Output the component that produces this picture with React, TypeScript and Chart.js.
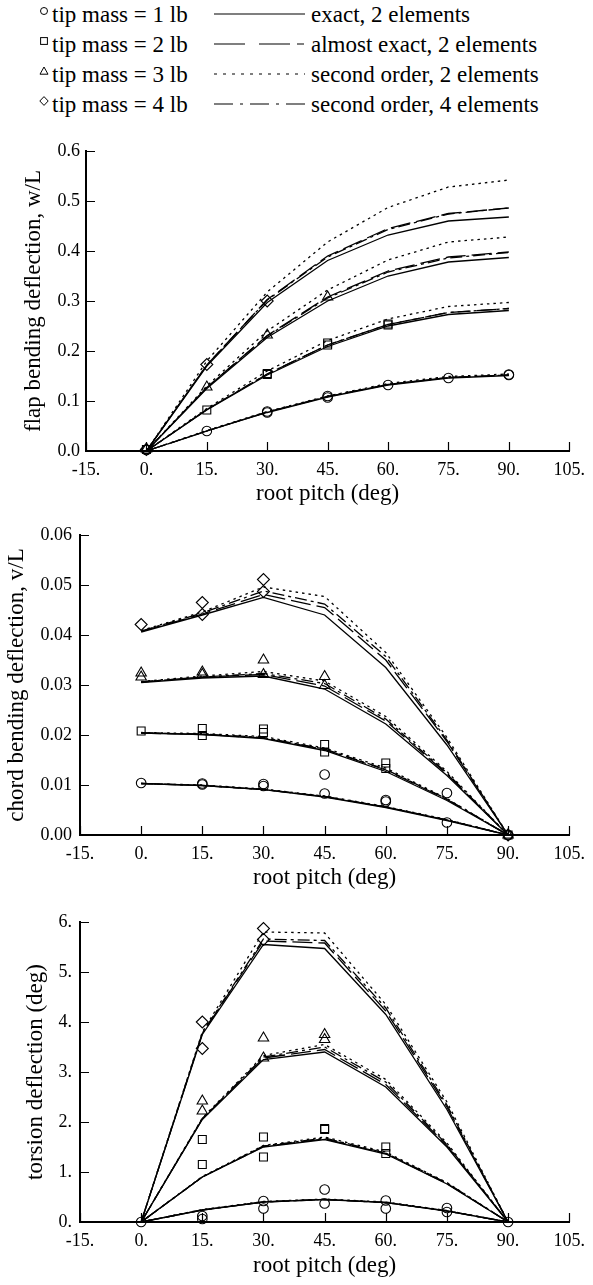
import React, { useEffect, useRef } from "react";
import { Chart, registerables } from "chart.js";

Chart.register(...registerables);

const FONT = '"Liberation Serif", "Tinos", "Times New Roman", serif';
Chart.defaults.font.family = FONT;

// ---------- shared ----------
const pitch = [0, 15, 30, 45, 60, 75, 90];
const xMin = -15;
const xMax = 105;
const xStep = 15;
const xTitle = "root pitch (deg)";

const legendMasses = ["tip mass = 1 lb", "tip mass = 2 lb", "tip mass = 3 lb", "tip mass = 4 lb"];
const legendMethods = [
  "exact, 2 elements",
  "almost exact, 2 elements",
  "second order, 2 elements",
  "second order, 4 elements",
];

// ---------- panel 1: flap bending ----------
const flapExact1 = [0, 0.04, 0.077, 0.108, 0.132, 0.146, 0.151];
const flapExact2 = [0, 0.082, 0.152, 0.209, 0.25, 0.273, 0.281];
const flapExact3 = [0, 0.125, 0.227, 0.3, 0.35, 0.378, 0.387];
const flapExact4 = [0, 0.17, 0.297, 0.381, 0.432, 0.46, 0.468];
const flapAlmost1 = [0, 0.04, 0.078, 0.109, 0.133, 0.147, 0.152];
const flapAlmost2 = [0, 0.083, 0.154, 0.212, 0.253, 0.277, 0.285];
const flapAlmost3 = [0, 0.127, 0.231, 0.308, 0.36, 0.388, 0.398];
const flapAlmost4 = [0, 0.172, 0.303, 0.39, 0.445, 0.475, 0.486];
const flapSecond1 = [0, 0.041, 0.079, 0.11, 0.135, 0.149, 0.154];
const flapSecond2 = [0, 0.085, 0.16, 0.221, 0.264, 0.289, 0.297];
const flapSecond3 = [0, 0.13, 0.24, 0.322, 0.382, 0.418, 0.428];
const flapSecond4 = [0, 0.18, 0.318, 0.418, 0.487, 0.528, 0.542];
const flapFour1 = [0, 0.04, 0.078, 0.109, 0.133, 0.147, 0.152];
const flapFour2 = [0, 0.083, 0.154, 0.212, 0.253, 0.277, 0.285];
const flapFour3 = [0, 0.127, 0.23, 0.306, 0.358, 0.386, 0.397];
const flapFour4 = [0, 0.172, 0.302, 0.388, 0.443, 0.474, 0.486];
const flapCircles = [[0, 0.002], [15, 0.04], [30, 0.077], [30, 0.079], [45, 0.107], [45, 0.11], [60, 0.132], [75, 0.146], [90, 0.152], [90, 0.153]];
const flapSquares = [[0, 0.003], [15, 0.082], [30, 0.153], [30, 0.155], [45, 0.212], [45, 0.216], [60, 0.252], [60, 0.254]];
const flapTriangles = [[0, 0.004], [15, 0.128], [30, 0.232], [45, 0.308]];
const flapDiamonds = [[0, 0.003], [15, 0.173], [30, 0.3]];

// ---------- panel 2: chord bending ----------
const chordExact1 = [0.0103, 0.0099, 0.0091, 0.0076, 0.0055, 0.0029, 0];
const chordExact2 = [0.0204, 0.0201, 0.0193, 0.0169, 0.0127, 0.0069, 0];
const chordExact3 = [0.0305, 0.0314, 0.0318, 0.0292, 0.0222, 0.0119, 0];
const chordExact4 = [0.0406, 0.044, 0.0475, 0.044, 0.0335, 0.018, 0];
const chordAlmost1 = [0.0103, 0.0099, 0.0091, 0.0077, 0.0056, 0.003, 0];
const chordAlmost2 = [0.0204, 0.0201, 0.0194, 0.0171, 0.013, 0.0071, 0];
const chordAlmost3 = [0.0306, 0.0316, 0.0321, 0.0298, 0.0228, 0.0122, 0];
const chordAlmost4 = [0.0407, 0.0442, 0.0481, 0.0455, 0.035, 0.0187, 0];
const chordSecond1 = [0.0103, 0.01, 0.0092, 0.0078, 0.0057, 0.0031, 0];
const chordSecond2 = [0.0205, 0.0203, 0.0197, 0.0174, 0.0134, 0.0073, 0];
const chordSecond3 = [0.0307, 0.0318, 0.0327, 0.0308, 0.0237, 0.0127, 0];
const chordSecond4 = [0.0409, 0.0446, 0.0496, 0.0477, 0.0365, 0.0195, 0];
const chordFour1 = [0.0103, 0.0099, 0.0091, 0.0077, 0.0056, 0.003, 0];
const chordFour2 = [0.0204, 0.0202, 0.0195, 0.0172, 0.0131, 0.0072, 0];
const chordFour3 = [0.0306, 0.0316, 0.0323, 0.0303, 0.0232, 0.0124, 0];
const chordFour4 = [0.0408, 0.0444, 0.0488, 0.0462, 0.0357, 0.019, 0];
const chordCircles = [[0, 0.0104], [15, 0.0101], [15, 0.0103], [30, 0.0102], [30, 0.0098], [45, 0.0121], [45, 0.0083], [60, 0.007], [60, 0.0067], [75, 0.0084], [75, 0.0025], [90, 0]];
const chordSquares = [[0, 0.0208], [15, 0.0213], [15, 0.0199], [30, 0.0212], [30, 0.0205], [45, 0.0181], [45, 0.0166], [60, 0.0144], [60, 0.0133], [90, 0]];
const chordTriangles = [[0, 0.0324], [0, 0.0316], [15, 0.0326], [15, 0.0321], [30, 0.035], [30, 0.0321], [45, 0.0317], [45, 0.0299], [90, 0]];
const chordDiamonds = [[0, 0.0421], [15, 0.0465], [15, 0.0441], [30, 0.0511], [30, 0.0487], [90, 0]];

// ---------- panel 3: torsion ----------
const torsExact1 = [0, 0.24, 0.4, 0.45, 0.39, 0.22, 0];
const torsExact2 = [0, 0.9, 1.5, 1.65, 1.36, 0.76, 0];
const torsExact3 = [0, 2.05, 3.25, 3.4, 2.7, 1.5, 0];
const torsExact4 = [0, 3.75, 5.55, 5.47, 4.15, 2.25, 0];
const torsAlmost1 = [0, 0.24, 0.4, 0.45, 0.39, 0.22, 0];
const torsAlmost2 = [0, 0.9, 1.51, 1.66, 1.37, 0.77, 0];
const torsAlmost3 = [0, 2.06, 3.28, 3.45, 2.75, 1.53, 0];
const torsAlmost4 = [0, 3.77, 5.62, 5.58, 4.22, 2.3, 0];
const torsSecond1 = [0, 0.25, 0.41, 0.46, 0.4, 0.23, 0];
const torsSecond2 = [0, 0.91, 1.53, 1.7, 1.4, 0.79, 0];
const torsSecond3 = [0, 2.08, 3.33, 3.55, 2.85, 1.58, 0];
const torsSecond4 = [0, 3.8, 5.8, 5.78, 4.35, 2.4, 0];
const torsFour1 = [0, 0.24, 0.4, 0.45, 0.39, 0.22, 0];
const torsFour2 = [0, 0.9, 1.52, 1.68, 1.38, 0.78, 0];
const torsFour3 = [0, 2.07, 3.3, 3.5, 2.8, 1.55, 0];
const torsFour4 = [0, 3.78, 5.66, 5.63, 4.28, 2.34, 0];
const torsCircles = [[0, 0], [15, 0.12], [15, 0.06], [30, 0.42], [30, 0.27], [45, 0.65], [45, 0.37], [60, 0.43], [60, 0.27], [75, 0.28], [75, 0.2], [90, 0]];
const torsSquares = [[15, 1.65], [15, 1.15], [30, 1.7], [30, 1.3], [45, 1.87], [45, 1.85], [60, 1.5], [60, 1.37]];
const torsTriangles = [[15, 2.42], [15, 2.22], [30, 3.68], [30, 3.28], [45, 3.75], [45, 3.65]];
const torsDiamonds = [[15, 4.0], [15, 3.47], [30, 5.87], [30, 5.65]];

// ---------- styles ----------
const DASH_EXACT: number[] = [];
const DASH_ALMOST = [20, 6];
const DASH_SECOND = [2.5, 4];
const DASH_FOUR = [12, 4, 3, 4];

function lineDs(ys: number[], dash: number[]) {
  return {
    type: "line",
    data: pitch.map((x, i) => ({ x, y: ys[i] })),
    borderColor: "#000",
    borderWidth: 1.3,
    borderDash: dash,
    pointRadius: 0,
    pointHoverRadius: 0,
    fill: false,
    tension: 0,
    clip: false,
  };
}

function markDs(pts: number[][], style: string, r: number) {
  return {
    type: "line",
    data: pts.map(([x, y]) => ({ x, y })),
    showLine: false,
    pointStyle: style,
    pointRadius: r,
    pointHoverRadius: r,
    borderColor: "#000",
    backgroundColor: "rgba(0,0,0,0)",
    pointBorderWidth: 1.1,
    borderWidth: 1.1,
    clip: false,
  };
}

function buildDatasets(
  exact: number[][],
  almost: number[][],
  second: number[][],
  four: number[][],
  circles: number[][],
  squares: number[][],
  triangles: number[][],
  diamonds: number[][]
) {
  const ds: any[] = [
    markDs(circles, "circle", 4.8),
    markDs(squares, "rect", 5.6),
    markDs(triangles, "triangle", 6),
    markDs(diamonds, "rectRot", 6),
  ];
  exact.forEach((s) => ds.push(lineDs(s, DASH_EXACT)));
  almost.forEach((s) => ds.push(lineDs(s, DASH_ALMOST)));
  four.forEach((s) => ds.push(lineDs(s, DASH_FOUR)));
  second.forEach((s) => ds.push(lineDs(s, DASH_SECOND)));
  return ds;
}

const inwardTicks = {
  id: "inwardTicks",
  afterDatasetsDraw(chart: any) {
    const { ctx, chartArea } = chart;
    const xs = chart.scales.x;
    const ys = chart.scales.y;
    ctx.save();
    ctx.strokeStyle = "#000";
    ctx.lineWidth = 1.2;
    ctx.setLineDash([]);
    ctx.beginPath();
    xs.ticks.forEach((t: any) => {
      const px = Math.round(xs.getPixelForValue(t.value)) + 0.5;
      ctx.moveTo(px, chartArea.bottom);
      ctx.lineTo(px, chartArea.bottom - 9);
    });
    ys.ticks.forEach((t: any) => {
      const py = Math.round(ys.getPixelForValue(t.value)) + 0.5;
      ctx.moveTo(chartArea.left, py);
      ctx.lineTo(chartArea.left + 9, py);
    });
    ctx.stroke();
    ctx.restore();
  },
};

type PanelCfg = {
  top: number;
  height: number;
  plotTop: number;
  plotLeft: number;
  plotRight: number;
  xAxisHeight: number;
  yMin: number;
  yMax: number;
  yStep: number;
  yFmt: (v: number) => string;
  yTitle: string;
  yTitlePad: number;
  yTickPad: number;
  datasets: any[];
};

const panels: PanelCfg[] = [
  {
    top: 125,
    height: 383,
    plotTop: 151,
    plotLeft: 86,
    plotRight: 576,
    xAxisHeight: 57,
    yMin: 0,
    yMax: 0.6,
    yStep: 0.1,
    yFmt: (v) => v.toFixed(1),
    yTitle: "flap bending deflection, w/L",
    yTitlePad: 20,
    yTickPad: 6,
    datasets: buildDatasets(
      [flapExact1, flapExact2, flapExact3, flapExact4],
      [flapAlmost1, flapAlmost2, flapAlmost3, flapAlmost4],
      [flapSecond1, flapSecond2, flapSecond3, flapSecond4],
      [flapFour1, flapFour2, flapFour3, flapFour4],
      flapCircles,
      flapSquares,
      flapTriangles,
      flapDiamonds
    ),
  },
  {
    top: 510,
    height: 382,
    plotTop: 535,
    plotLeft: 80,
    plotRight: 571,
    xAxisHeight: 57,
    yMin: 0,
    yMax: 0.06,
    yStep: 0.01,
    yFmt: (v) => v.toFixed(2),
    yTitle: "chord bending deflection, v/L",
    yTitlePad: 3,
    yTickPad: 8,
    datasets: buildDatasets(
      [chordExact1, chordExact2, chordExact3, chordExact4],
      [chordAlmost1, chordAlmost2, chordAlmost3, chordAlmost4],
      [chordSecond1, chordSecond2, chordSecond3, chordSecond4],
      [chordFour1, chordFour2, chordFour3, chordFour4],
      chordCircles,
      chordSquares,
      chordTriangles,
      chordDiamonds
    ),
  },
  {
    top: 895,
    height: 385,
    plotTop: 922,
    plotLeft: 80,
    plotRight: 571,
    xAxisHeight: 58,
    yMin: 0,
    yMax: 6,
    yStep: 1,
    yFmt: (v) => Math.round(v) + ".",
    yTitle: "torsion deflection (deg)",
    yTitlePad: 22,
    yTickPad: 8,
    datasets: buildDatasets(
      [torsExact1, torsExact2, torsExact3, torsExact4],
      [torsAlmost1, torsAlmost2, torsAlmost3, torsAlmost4],
      [torsSecond1, torsSecond2, torsSecond3, torsSecond4],
      [torsFour1, torsFour2, torsFour3, torsFour4],
      torsCircles,
      torsSquares,
      torsTriangles,
      torsDiamonds
    ),
  },
];

function Panel({ cfg }: { cfg: PanelCfg }) {
  const ref = useRef<HTMLCanvasElement | null>(null);
  useEffect(() => {
    if (!ref.current) return;
    const chart = new Chart(ref.current, {
      type: "line",
      data: { datasets: cfg.datasets },
      plugins: [inwardTicks],
      options: {
        responsive: false,
        animation: false,
        events: [],
        devicePixelRatio: 1,
        layout: {
          padding: { top: cfg.plotTop - cfg.top, right: 593 - cfg.plotRight, bottom: 0, left: 0 },
        },
        plugins: { legend: { display: false }, tooltip: { enabled: false } },
        scales: {
          x: {
            type: "linear",
            min: xMin,
            max: xMax,
            grid: { display: false, drawTicks: false },
            border: { display: true, color: "#000", width: 2 },
            ticks: {
              stepSize: xStep,
              autoSkip: false,
              maxRotation: 0,
              padding: 8,
              color: "#000",
              font: { family: FONT, size: 18 },
              callback: (v: any) => Math.round(Number(v)) + ".",
            },
            title: {
              display: true,
              text: xTitle,
              color: "#000",
              font: { family: FONT, size: 23 },
              padding: { top: 0, bottom: 0 },
            },
            afterFit: (s: any) => {
              s.height = cfg.xAxisHeight;
            },
          },
          y: {
            type: "linear",
            min: cfg.yMin,
            max: cfg.yMax,
            grid: { display: false, drawTicks: false },
            border: { display: true, color: "#000", width: 2 },
            ticks: {
              stepSize: cfg.yStep,
              padding: cfg.yTickPad,
              color: "#000",
              font: { family: FONT, size: 18 },
              callback: (v: any) => cfg.yFmt(Number(v)),
            },
            title: {
              display: true,
              text: cfg.yTitle,
              color: "#000",
              font: { family: FONT, size: 23 },
              padding: { top: cfg.yTitlePad, bottom: 0 },
            },
            afterFit: (s: any) => {
              s.width = cfg.plotLeft;
            },
          },
        },
      } as any,
    });
    return () => {
      chart.destroy();
    };
  }, [cfg]);
  return (
    <canvas
      ref={ref}
      width={593}
      height={cfg.height}
      style={{ position: "absolute", left: 0, top: cfg.top, width: 593, height: cfg.height }}
    />
  );
}

function LegendMarker({ kind }: { kind: number }) {
  let shape: any = null;
  if (kind === 0) shape = <circle cx={5} cy={5} r={3.5} fill="none" stroke="#000" strokeWidth={1} />;
  if (kind === 1) shape = <rect x={1.6} y={1.6} width={6.8} height={6.8} fill="none" stroke="#000" strokeWidth={1} />;
  if (kind === 2) shape = <polygon points="5,1 9,8.2 1,8.2" fill="none" stroke="#000" strokeWidth={1} />;
  if (kind === 3) shape = <polygon points="5,0.6 9.2,5 5,9.4 0.8,5" fill="none" stroke="#000" strokeWidth={1} />;
  return (
    <svg width={10} height={10} style={{ position: "absolute", left: 0, top: 0 }}>
      {shape}
    </svg>
  );
}

const legendDashes = ["", "31 14 31 7 7", "3 6", "19 7 3 7"];

function Legend() {
  const rowY = [15, 45, 75, 105];
  const textStyle: any = {
    position: "absolute",
    fontFamily: FONT,
    fontSize: 23,
    lineHeight: "30px",
    whiteSpace: "nowrap",
    color: "#000",
  };
  return (
    <>
      {legendMasses.map((m, i) => (
        <React.Fragment key={i}>
          <div style={{ position: "absolute", left: 39, top: rowY[i] - 9, width: 10, height: 10 }}>
            <LegendMarker kind={i} />
          </div>
          <div style={{ ...textStyle, left: 52, top: rowY[i] - 15 }}>{m}</div>
          <svg width={92} height={6} style={{ position: "absolute", left: 214, top: rowY[i] - 4 }}>
            <line
              x1={0}
              y1={3}
              x2={91}
              y2={3}
              stroke="#000"
              strokeWidth={1.2}
              strokeDasharray={legendDashes[i] || undefined}
            />
          </svg>
          <div style={{ ...textStyle, left: 311, top: rowY[i] - 15 }}>{legendMethods[i]}</div>
        </React.Fragment>
      ))}
    </>
  );
}

export default function App() {
  return (
    <div
      style={{
        position: "absolute",
        left: 0,
        top: 0,
        width: 593,
        height: 1285,
        background: "#fff",
        fontFamily: FONT,
        overflow: "hidden",
      }}
    >
      <Legend />
      {panels.map((p, i) => (
        <Panel key={i} cfg={p} />
      ))}
    </div>
  );
}
